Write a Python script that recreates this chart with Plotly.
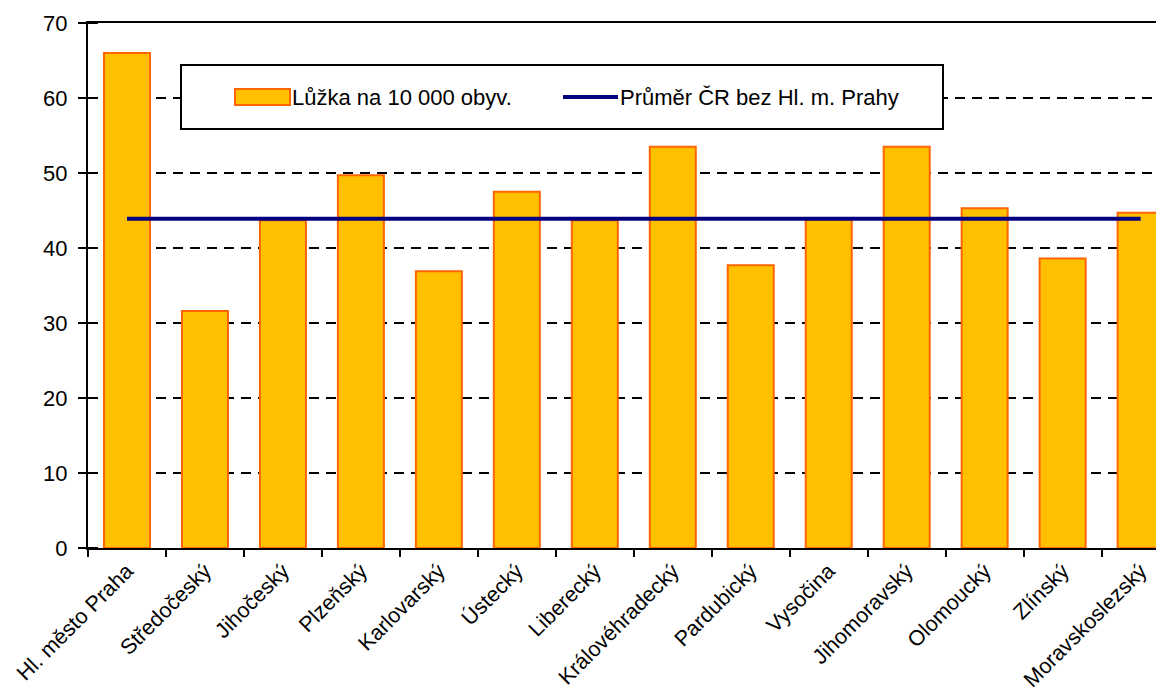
import plotly.graph_objects as go

regions = ["Hl. město Praha", "Středočeský", "Jihočeský", "Plzeňský", "Karlovarský",
           "Ústecký", "Liberecký", "Královéhradecký", "Pardubický", "Vysočina",
           "Jihomoravský", "Olomoucký", "Zlínský", "Moravskoslezský"]
beds = [66.0, 31.6, 43.7, 49.7, 36.9, 47.5, 43.7, 53.5, 37.7, 43.8, 53.5, 45.3, 38.6, 44.7]
avg_without_prague = 43.9
series_bar = "Lůžka na 10 000 obyv."
series_line = "Průměr ČR bez Hl. m. Prahy"
y_ticks = [0, 10, 20, 30, 40, 50, 60, 70]

OFF = 8  # page body margin
W, H = 1156, 691
L, R, T, B = 80, 0, 15, 151
FONT = "Liberation Sans, Arial, sans-serif"

def px_x(p):
    return (p - OFF - L) / (W - L - R)

def px_y(p):
    return (H - B - (p - OFF)) / (H - T - B)

fig = go.Figure()
fig.add_trace(go.Bar(
    x=regions, y=beds, name=series_bar,
    marker=dict(color="#FFC000", line=dict(color="#FF6600", width=2)),
    showlegend=False,
))
fig.add_trace(go.Scatter(
    x=regions, y=[avg_without_prague] * len(regions), name=series_line,
    mode="lines", line=dict(color="#000080", width=4), showlegend=False,
))

# legend drawn manually
shapes = [
    dict(type="rect", xref="paper", yref="paper",
         x0=px_x(181), x1=px_x(943), y0=px_y(129), y1=px_y(65),
         fillcolor="white", line=dict(color="black", width=2), layer="above"),
    dict(type="rect", xref="paper", yref="paper",
         x0=px_x(235), x1=px_x(290), y0=px_y(105), y1=px_y(89),
         fillcolor="#FFC000", line=dict(color="#FF6600", width=2), layer="above"),
    dict(type="line", xref="paper", yref="paper",
         x0=px_x(563), x1=px_x(618), y0=px_y(97), y1=px_y(97),
         line=dict(color="#000080", width=4), layer="above"),
]
annotations = [
    dict(text=series_bar, xref="paper", yref="paper", x=px_x(290), y=px_y(97),
         xanchor="left", yanchor="middle", showarrow=False,
         font=dict(family=FONT, size=22, color="black")),
    dict(text=series_line, xref="paper", yref="paper", x=px_x(618), y=px_y(97),
         xanchor="left", yanchor="middle", showarrow=False,
         font=dict(family=FONT, size=22, color="black")),
]

fig.update_layout(
    width=W, height=H,
    margin=dict(l=L, r=R, t=T, b=B, pad=0),
    paper_bgcolor="white", plot_bgcolor="white",
    bargap=0.41,
    font=dict(family=FONT, size=21, color="black"),
    shapes=shapes, annotations=annotations,
)
fig.update_xaxes(
    type="category", range=[-0.5, 13.3],
    showline=True, linecolor="black", linewidth=2, mirror=True,
    ticks="outside", ticklen=7, tickwidth=2, tickcolor="black",
    tickson="boundaries", tickangle=-45,
    tickfont=dict(family=FONT, size=21.5, color="black"),
    showgrid=False,
)
fig.update_yaxes(
    range=[0, 70], tickvals=y_ticks,
    showline=True, linecolor="black", linewidth=2,
    ticks="outside", ticklen=8, tickwidth=2, tickcolor="black",
    ticklabelstandoff=6,
    minor=dict(tickvals=y_ticks, ticks="inside", ticklen=10, tickwidth=2, tickcolor="black", showgrid=False),
    showgrid=True, gridcolor="black", gridwidth=2, griddash="10px,7px",
    zeroline=False,
    tickfont=dict(family=FONT, size=22, color="black"),
)

fig.write_html("out.html")
